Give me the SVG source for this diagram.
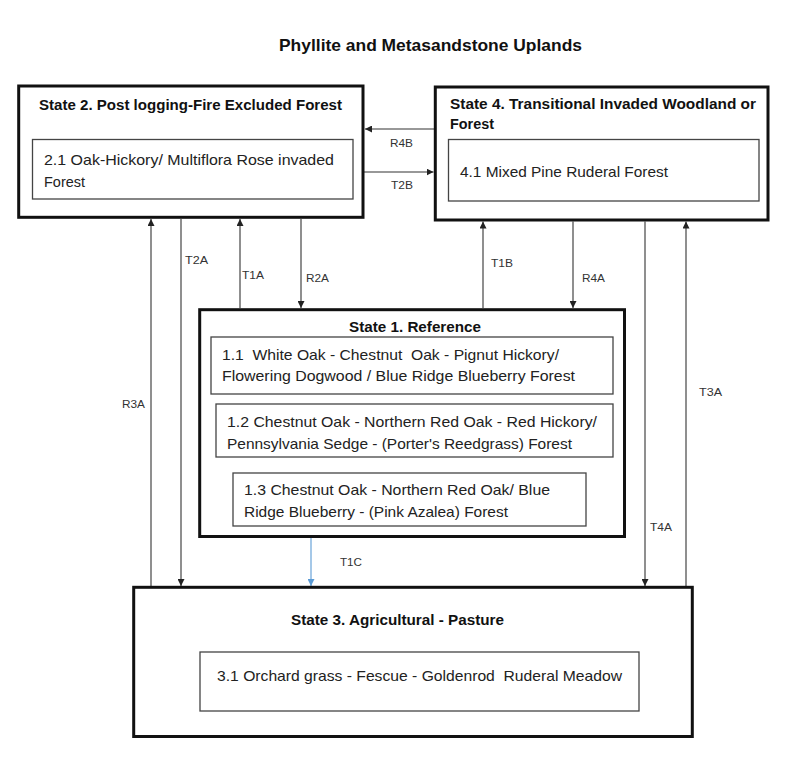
<svg xmlns="http://www.w3.org/2000/svg" width="800" height="767" viewBox="0 0 800 767">
<defs>
<style>
.state{fill:#fff;stroke:#111;stroke-width:3}
.sub{fill:#fff;stroke:#444;stroke-width:1.3}
.hd{font-family:"Liberation Sans",Arial,sans-serif;font-weight:bold;font-size:14.5px;fill:#111}
.tx{font-family:"Liberation Sans",Arial,sans-serif;font-size:15px;fill:#222}
.lb{font-family:"Liberation Sans",Arial,sans-serif;font-size:11.5px;fill:#333}
.cn{fill:none;stroke:#333;stroke-width:1.1}
.blue{fill:none;stroke:#5b9bd5;stroke-width:1.1}
</style>
<marker id="ah" viewBox="0 0 10 10" refX="10" refY="5" markerUnits="userSpaceOnUse" markerWidth="7" markerHeight="7" orient="auto">
<path d="M0,0 L10,5 L0,10 z" fill="#222"/>
</marker>
<marker id="ahb" viewBox="0 0 10 10" refX="10" refY="5" markerUnits="userSpaceOnUse" markerWidth="7" markerHeight="7" orient="auto">
<path d="M0,0 L10,5 L0,10 z" fill="#5b9bd5"/>
</marker>
</defs>
<rect width="800" height="767" fill="#fff"/>
<text x="279" y="50.5" class="hd" style="font-size:16.5px" textLength="303" lengthAdjust="spacingAndGlyphs">Phyllite and Metasandstone Uplands</text>

<g id="connectors">
<line class="cn" x1="434" y1="129" x2="365" y2="129" marker-end="url(#ah)"/>
<line class="cn" x1="364" y1="172" x2="433.5" y2="172" marker-end="url(#ah)"/>
<line class="cn" x1="151" y1="586" x2="151" y2="219" marker-end="url(#ah)"/>
<line class="cn" x1="181" y1="219" x2="181" y2="586" marker-end="url(#ah)"/>
<line class="cn" x1="240" y1="308" x2="240" y2="219" marker-end="url(#ah)"/>
<line class="cn" x1="301" y1="219" x2="301" y2="308" marker-end="url(#ah)"/>
<line class="cn" x1="483" y1="308" x2="483" y2="221.5" marker-end="url(#ah)"/>
<line class="cn" x1="573" y1="221.5" x2="573" y2="308" marker-end="url(#ah)"/>
<line class="cn" x1="645" y1="221.5" x2="645" y2="586" marker-end="url(#ah)"/>
<line class="cn" x1="686" y1="586" x2="686" y2="221.5" marker-end="url(#ah)"/>
<line class="blue" x1="311" y1="538" x2="311" y2="586" marker-end="url(#ahb)"/>
<text class="lb" x="390" y="147" textLength="23" lengthAdjust="spacingAndGlyphs">R4B</text>
<text class="lb" x="391" y="189" textLength="22" lengthAdjust="spacingAndGlyphs">T2B</text>
<text class="lb" x="185" y="264" textLength="23" lengthAdjust="spacingAndGlyphs">T2A</text>
<text class="lb" x="242" y="279" textLength="22" lengthAdjust="spacingAndGlyphs">T1A</text>
<text class="lb" x="306" y="282" textLength="23" lengthAdjust="spacingAndGlyphs">R2A</text>
<text class="lb" x="491" y="267" textLength="22" lengthAdjust="spacingAndGlyphs">T1B</text>
<text class="lb" x="582" y="282" textLength="23" lengthAdjust="spacingAndGlyphs">R4A</text>
<text class="lb" x="122" y="408" textLength="23" lengthAdjust="spacingAndGlyphs">R3A</text>
<text class="lb" x="699" y="396" textLength="23" lengthAdjust="spacingAndGlyphs">T3A</text>
<text class="lb" x="650" y="531" textLength="22" lengthAdjust="spacingAndGlyphs">T4A</text>
<text class="lb" x="340" y="566" textLength="22" lengthAdjust="spacingAndGlyphs">T1C</text>
</g>

<g id="state2">
<rect class="state" x="18.7" y="86" width="344.3" height="131.3"/>
<text class="hd" x="39" y="110" textLength="303" lengthAdjust="spacingAndGlyphs">State 2. Post logging-Fire Excluded Forest</text>
<rect class="sub" x="32.5" y="139.5" width="320.5" height="59.5"/>
<text class="tx" x="44" y="164.5" textLength="290" lengthAdjust="spacingAndGlyphs">2.1 Oak-Hickory/ Multiflora Rose invaded</text>
<text class="tx" x="44" y="187" textLength="41" lengthAdjust="spacingAndGlyphs">Forest</text>
</g>

<g id="state4">
<rect class="state" x="435.3" y="87" width="332.7" height="133"/>
<text class="hd" x="450" y="108.5" textLength="306" lengthAdjust="spacingAndGlyphs">State 4. Transitional Invaded Woodland or</text>
<text class="hd" x="450" y="128.5" textLength="44" lengthAdjust="spacingAndGlyphs">Forest</text>
<rect class="sub" x="448.5" y="139.5" width="310.5" height="61.5"/>
<text class="tx" x="460" y="176.5" textLength="208" lengthAdjust="spacingAndGlyphs">4.1 Mixed Pine Ruderal Forest</text>
</g>

<g id="state1">
<rect class="state" x="199.7" y="309.7" width="424.8" height="226.8"/>
<text class="hd" x="349" y="331.5" textLength="132" lengthAdjust="spacingAndGlyphs">State 1. Reference</text>
<rect class="sub" x="211" y="337" width="402" height="57"/>
<text class="tx" x="222" y="359.5" textLength="337" lengthAdjust="spacingAndGlyphs" xml:space="preserve">1.1  White Oak - Chestnut  Oak - Pignut Hickory/</text>
<text class="tx" x="222" y="380.5" textLength="353" lengthAdjust="spacingAndGlyphs">Flowering Dogwood / Blue Ridge Blueberry Forest</text>
<rect class="sub" x="216" y="404" width="397" height="53"/>
<text class="tx" x="227" y="427" textLength="370" lengthAdjust="spacingAndGlyphs">1.2 Chestnut Oak - Northern Red Oak - Red Hickory/</text>
<text class="tx" x="227" y="448.5" textLength="345" lengthAdjust="spacingAndGlyphs">Pennsylvania Sedge - (Porter's Reedgrass) Forest</text>
<rect class="sub" x="233" y="473" width="353" height="53"/>
<text class="tx" x="244" y="495" textLength="306" lengthAdjust="spacingAndGlyphs">1.3 Chestnut Oak - Northern Red Oak/ Blue</text>
<text class="tx" x="244" y="516.5" textLength="264" lengthAdjust="spacingAndGlyphs">Ridge Blueberry - (Pink Azalea) Forest</text>
</g>

<g id="state3">
<rect class="state" x="133.7" y="587.3" width="558.6" height="149.2"/>
<text class="hd" x="291" y="625" textLength="213" lengthAdjust="spacingAndGlyphs">State 3. Agricultural - Pasture</text>
<rect class="sub" x="200" y="652" width="439" height="59"/>
<text class="tx" x="217" y="681" textLength="405" lengthAdjust="spacingAndGlyphs" xml:space="preserve">3.1 Orchard grass - Fescue - Goldenrod  Ruderal Meadow</text>
</g>
</svg>
